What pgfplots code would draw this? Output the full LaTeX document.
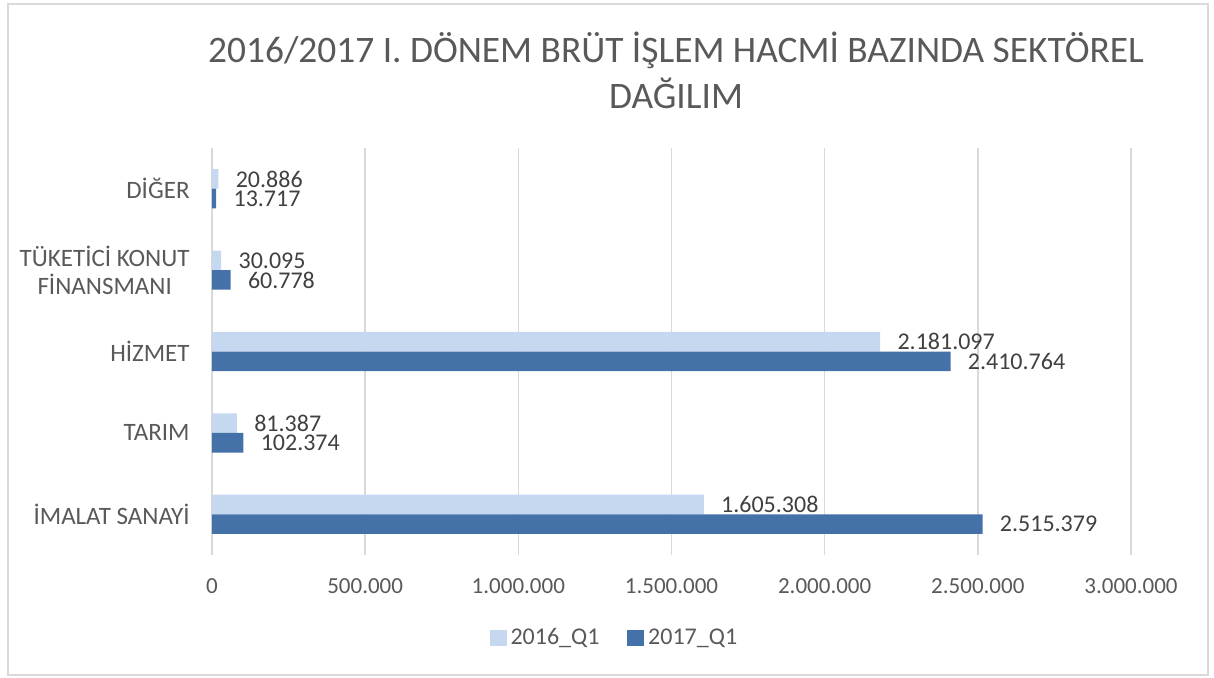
\documentclass[border=0pt]{standalone}
\usepackage{pgfplots}
\pgfplotsset{compat=1.18}
\usepackage{pgfplotstable}
\usepackage{fontspec}
\setmainfont{Carlito}
\definecolor{lightbar}{RGB}{197,216,240}
\definecolor{darkbar}{RGB}{68,114,168}
\definecolor{gridc}{RGB}{217,217,217}
\definecolor{txt}{RGB}{89,89,89}
\definecolor{lbl}{RGB}{64,64,64}

\pgfplotstableread{
y x lab
0 1605308 1.605.308
1 81387 81.387
2 2181097 2.181.097
3 30095 30.095
4 20886 20.886
}\tsixteen
\pgfplotstableread{
y x lab
0 2515379 2.515.379
1 102374 102.374
2 2410764 2.410.764
3 60778 60.778
4 13717 13.717
}\tseventeen

\begin{document}
\begin{tikzpicture}
\useasboundingbox (-106pt,-61pt) rectangle (501pt,277.5pt);
\draw[gridc, line width=0.75pt] (-102pt,-60pt) rectangle (498pt,275.5pt);
\node[anchor=base, text=txt, font=\fontsize{18.7}{21}\selectfont, inner sep=0pt] at (232pt,246.5pt) {2016/2017 I. DÖNEM BRÜT İŞLEM HACMİ BAZINDA SEKTÖREL};
\node[anchor=base, text=txt, font=\fontsize{18.7}{21}\selectfont, inner sep=0pt] at (232pt,223.5pt) {DAĞILIM};
\begin{axis}[
  scale only axis,
  width=459.5pt, height=203.5pt,
  xbar, bar width=9.8pt,
  xmin=0, xmax=3000000,
  ymin=-0.5, ymax=4.5,
  xtick={0,500000,1000000,1500000,2000000,2500000,3000000},
  xticklabels={0,500.000,1.000.000,1.500.000,2.000.000,2.500.000,3.000.000},
  scaled x ticks=false,
  ytick={0,1,2,3,4},
  yticklabels={İMALAT SANAYİ,TARIM,HİZMET,{TÜKETİCİ KONUT\\FİNANSMANI},DİĞER},
  xmajorgrids, grid style={gridc, line width=0.75pt},
  axis line style={draw=none},
  major tick length=0pt,
  xticklabel style={font=\fontsize{11.5}{13}\selectfont, text=txt, anchor=north, inner sep=0pt, yshift=-11.5pt},
  yticklabel style={font=\fontsize{12.5}{14}\selectfont, text=txt, align=center, anchor=east, inner sep=0pt, xshift=-11pt},
  /pgf/number format/assume math mode=true,
  point meta=explicit symbolic,
  nodes near coords,
  every node near coord/.append style={font=\fontsize{12}{14}\selectfont, text=lbl, anchor=west, inner sep=0pt, xshift=8.5pt},
  legend columns=2,
  legend style={draw=none, at={(0.439,-0.204)}, anchor=center, font=\fontsize{12}{14}\selectfont, text=txt,
    /tikz/every even column/.append style={column sep=12pt}},
  legend image code/.code={\fill[#1] (0pt,-4.2pt) rectangle (8.4pt,4.2pt);},
  clip=false,
]
\addplot[fill=lightbar, draw=none, bar shift=4.9pt] table[x=x, y=y, meta=lab] {\tsixteen};
\addlegendentry{2016\_Q1}
\addplot[fill=darkbar, draw=none, bar shift=-4.9pt] table[x=x, y=y, meta=lab] {\tseventeen};
\addlegendentry{2017\_Q1}
\end{axis}
\end{tikzpicture}
\end{document}
